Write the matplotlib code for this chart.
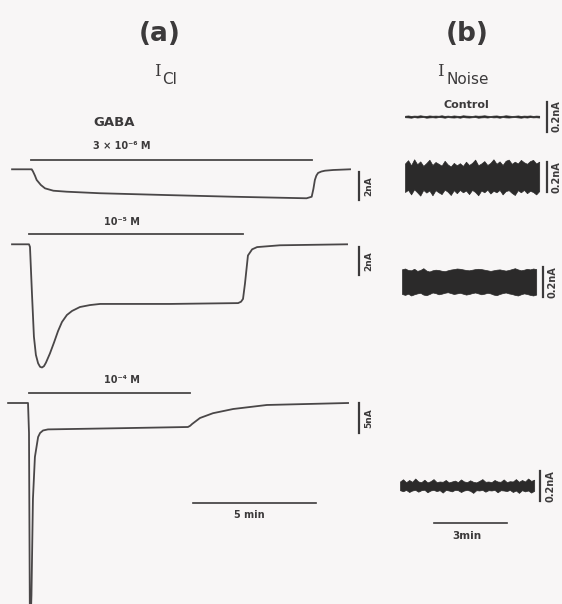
import numpy as np
import matplotlib.pyplot as plt

W, H = 562, 604
BG = '#f8f6f6'
INK = '#3c3a3b'

# ---- (a) GABA-activated Cl current, time in min from drug onset, current in nA
t_3e6 = [-0.77, 0.0, 0.03, 0.08, 0.16, 0.23, 0.4, 0.57, 0.91, 1.45, 2.8, 5.52,
         8.21, 11.2, 11.41, 11.48, 11.54, 11.6, 11.67, 11.8, 11.95, 12.28, 12.97]
i_3e6 = [0.0, 0.0, 0.0, -0.15, -0.45, -0.76, -1.12, -1.36, -1.53, -1.6, -1.71,
         -1.84, -1.96, -2.07, -1.96, -1.4, -0.76, -0.45, -0.26, -0.16, -0.1,
         -0.05, 0.0]

t_1e5 = [-0.69, 0.0, 0.04, 0.12, 0.2, 0.28, 0.37, 0.45, 0.53, 0.61, 0.69, 0.85,
         1.02, 1.18, 1.34, 1.54, 1.75, 2.07, 2.48, 2.89, 5.73, 8.5, 8.62, 8.7,
         8.78, 8.9, 9.07, 9.27, 10.2, 12.93]
i_1e5 = [0.0, 0.0, -0.19, -3.5, -6.6, -7.9, -8.5, -8.75, -8.8, -8.7, -8.45,
         -7.8, -7.0, -6.2, -5.55, -5.05, -4.76, -4.48, -4.34, -4.26, -4.26,
         -4.2, -4.1, -3.9, -2.8, -0.8, -0.36, -0.2, -0.07, 0.0]

t_1e4 = [-0.85, -0.04, 0.0, 0.04, 0.1, 0.16, 0.24, 0.37, 0.45, 0.57, 0.77,
         3.7, 6.46, 6.55, 6.63, 6.95, 7.48, 8.3, 9.67, 12.97]
i_1e4 = [0.0, 0.0, -5.0, -40.0, -32.0, -16.0, -9.0, -5.67, -5.0, -4.58, -4.4,
         -4.2, -4.0, -3.8, -3.5, -2.5, -1.7, -1.0, -0.33, 0.0]

gaba_on = [11.42, 8.7, 6.54]          # duration of GABA application, min
conc_labels = ['3 × 10⁻⁶ M', '10⁻⁵ M', '10⁻⁴ M']
gain_bars = [2, 2, 5]                 # nA

# ---- (b) current noise envelopes (nA), sampled every 0.125 min
t_noise = np.arange(45) * 0.125
ctl_hi = [0.005, 0.007, 0.004, 0.006, 0.005, 0.008, 0.005, 0.004, 0.007, 0.005,
          0.006, 0.005, 0.008, 0.004, 0.006, 0.004, 0.007, 0.005, 0.004, 0.008,
          0.006, 0.005, 0.004, 0.007, 0.005, 0.006, 0.008, 0.005, 0.004, 0.006,
          0.007, 0.004, 0.005, 0.008, 0.006, 0.004, 0.005, 0.007, 0.004, 0.006,
          0.005, 0.007, 0.004, 0.006, 0.005]
ctl_lo = [-0.005, -0.006, -0.008, -0.004, -0.007, -0.005, -0.004, -0.008, -0.006, -0.005,
          -0.007, -0.004, -0.005, -0.008, -0.004, -0.006, -0.007, -0.005, -0.008, -0.004,
          -0.006, -0.007, -0.005, -0.004, -0.008, -0.006, -0.005, -0.007, -0.004, -0.006,
          -0.005, -0.008, -0.004, -0.006, -0.007, -0.005, -0.004, -0.006, -0.008, -0.005,
          -0.007, -0.004, -0.006, -0.005, -0.007]

n1_hi = [0.090, 0.112, 0.078, 0.118, 0.085, 0.104, 0.074, 0.093, 0.115, 0.080,
         0.100, 0.088, 0.076, 0.108, 0.084, 0.070, 0.094, 0.078, 0.092, 0.074,
         0.102, 0.080, 0.094, 0.116, 0.078, 0.090, 0.106, 0.080, 0.094, 0.118,
         0.088, 0.104, 0.080, 0.108, 0.116, 0.088, 0.102, 0.090, 0.114, 0.098,
         0.088, 0.106, 0.114, 0.090, 0.102]
n1_lo = [-0.100, -0.086, -0.116, -0.082, -0.102, -0.124, -0.086, -0.104, -0.090, -0.122,
         -0.088, -0.102, -0.114, -0.084, -0.098, -0.120, -0.088, -0.108, -0.086, -0.102,
         -0.090, -0.114, -0.086, -0.100, -0.122, -0.090, -0.102, -0.084, -0.110, -0.092,
         -0.102, -0.086, -0.116, -0.094, -0.088, -0.106, -0.120, -0.088, -0.102, -0.086,
         -0.108, -0.092, -0.100, -0.116, -0.094]

n2_hi = [0.085, 0.090, 0.080, 0.078, 0.088, 0.074, 0.080, 0.092, 0.076, 0.070,
         0.078, 0.082, 0.080, 0.075, 0.072, 0.078, 0.083, 0.086, 0.090, 0.088,
         0.084, 0.080, 0.078, 0.082, 0.086, 0.088, 0.086, 0.082, 0.078, 0.074,
         0.078, 0.082, 0.084, 0.080, 0.076, 0.080, 0.086, 0.092, 0.084, 0.078,
         0.082, 0.088, 0.084, 0.090, 0.086]
n2_lo = [-0.080, -0.086, -0.078, -0.090, -0.082, -0.076, -0.072, -0.084, -0.088, -0.080,
         -0.070, -0.074, -0.082, -0.078, -0.072, -0.068, -0.074, -0.080, -0.076, -0.072,
         -0.078, -0.084, -0.080, -0.074, -0.070, -0.076, -0.082, -0.078, -0.072, -0.076,
         -0.084, -0.088, -0.080, -0.074, -0.070, -0.076, -0.080, -0.086, -0.090, -0.082,
         -0.076, -0.080, -0.086, -0.090, -0.084]

n3_hi = [0.030, 0.045, 0.025, 0.040, 0.028, 0.050, 0.030, 0.026, 0.042, 0.024,
         0.032, 0.046, 0.026, 0.030, 0.028, 0.040, 0.024, 0.030, 0.036, 0.026,
         0.044, 0.030, 0.026, 0.038, 0.028, 0.024, 0.034, 0.046, 0.028, 0.030,
         0.026, 0.040, 0.030, 0.028, 0.044, 0.026, 0.032, 0.030, 0.046, 0.028,
         0.040, 0.030, 0.050, 0.034, 0.042]
n3_lo = [-0.028, -0.035, -0.026, -0.040, -0.030, -0.026, -0.038, -0.028, -0.025, -0.042,
         -0.030, -0.026, -0.034, -0.028, -0.044, -0.026, -0.030, -0.036, -0.026, -0.028,
         -0.040, -0.030, -0.026, -0.032, -0.046, -0.028, -0.030, -0.026, -0.038, -0.028,
         -0.030, -0.026, -0.042, -0.028, -0.030, -0.034, -0.026, -0.040, -0.030, -0.046,
         -0.028, -0.036, -0.030, -0.044, -0.032]

fig = plt.figure(figsize=(W / 100, H / 100), dpi=100, facecolor=BG)


def trace_axes(x0, y0, px_min, px_unit):
    # full-figure axes whose data origin sits at pixel (x0, y0)
    ax = fig.add_axes([0, 0, 1, 1])
    ax.set_xlim(-x0 / px_min, (W - x0) / px_min)
    ax.set_ylim((y0 - H) / px_unit, y0 / px_unit)
    ax.axis('off')
    return ax


page = fig.add_axes([0, 0, 1, 1])
page.set_xlim(0, W)
page.set_ylim(H, 0)
page.axis('off')

bold = dict(color=INK, fontweight='bold', ha='center', va='center')

# ---- panel (a)
PXM = 24.6
a_traces = [(t_3e6, i_3e6, 31, 169.3, 14.0, 160, 172, 146),
            (t_1e5, i_1e5, 29, 244.3, 14.0, 234, 247, 222),
            (t_1e4, i_1e4, 29, 403.0, 6.0, 393, 403, 380)]
for k, (t, i, x0, y0, ppu, ybar, ysb, ytxt) in enumerate(a_traces):
    ax = trace_axes(x0, y0, PXM, ppu)
    ax.plot(t, i, color='#4a4748', lw=1.3, solid_joinstyle='round')
    bar_i = (y0 - ybar) / ppu
    ax.plot([0, gaba_on[k]], [bar_i, bar_i], color='#4a4748', lw=1.3)
    t_sb = (359 - x0) / PXM
    top = (y0 - ysb) / ppu
    ax.plot([t_sb, t_sb], [top, top - gain_bars[k]], color=INK, lw=1.6)
    page.text(369, ysb + gain_bars[k] * ppu / 2, f'{gain_bars[k]}nA',
              rotation=90, fontsize=6.5, **bold)
    page.text(122, ytxt, conc_labels[k], fontsize=7, **bold)

page.text(114, 122, 'GABA', fontsize=9.5, **bold)

# 5 min time bar
ax5 = trace_axes(193, 503, PXM, 14.0)
ax5.plot([0, 5], [0, 0], color=INK, lw=1.2)
page.text(249, 515, '5 min', fontsize=7, **bold)

page.text(160, 34, '(a)', fontsize=19, color=INK, fontweight='bold',
          ha='center', va='center')
page.text(157, 72, 'I', fontsize=12, family='DejaVu Serif', color=INK,
          ha='center', va='center')
page.text(162, 79, 'Cl', fontsize=11, color=INK, ha='left', va='center')

# ---- panel (b)
PXB = 24.4
NA = 150.0   # px per nA
b_traces = [(ctl_hi, ctl_lo, 405, 116.5, 547),
            (n1_hi, n1_lo, 405, 177, 547),
            (n2_hi, n2_lo, 402, 282, 543),
            (n3_hi, n3_lo, 400, 486, 540)]
for hi, lo, x0, y0, xsb in b_traces:
    ax = trace_axes(x0, y0, PXB, NA)
    ax.fill_between(t_noise, lo, hi, color='#2b2a2a', lw=0.5, edgecolor='#2b2a2a')
    t_sb = (xsb - x0) / PXB
    ax.plot([t_sb, t_sb], [0.1, -0.1], color=INK, lw=1.6)
    page.text(xsb + 10, y0, '0.2nA', rotation=90, fontsize=7, **bold)

ax3 = trace_axes(434, 523, PXB, NA)
ax3.plot([0, 3], [0, 0], color=INK, lw=1.2)
page.text(467, 536, '3min', fontsize=7.5, **bold)
page.text(466, 105, 'Control', fontsize=8, **bold)

page.text(467, 34, '(b)', fontsize=19, color=INK, fontweight='bold',
          ha='center', va='center')
page.text(440, 72, 'I', fontsize=12, family='DejaVu Serif', color=INK,
          ha='center', va='center')
page.text(446, 79, 'Noise', fontsize=11, color=INK, ha='left', va='center')

fig.savefig('out.png', dpi=100, facecolor=BG)
